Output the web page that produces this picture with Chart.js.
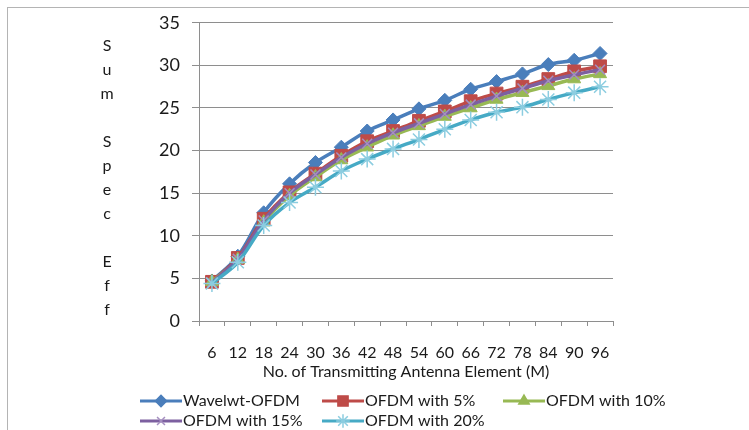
<!DOCTYPE html>
<html>
<head>
<meta charset="utf-8">
<script src="https://cdn.jsdelivr.net/npm/chart.js@4"></script>
<style>
  html,body{margin:0;padding:0;background:#fff;}
  #wrap{position:relative;width:749px;height:430px;overflow:hidden;}
  #frame{position:absolute;left:7px;top:7px;width:760px;height:440px;border-left:1px solid #b4b4b4;border-top:1px solid #b4b4b4;pointer-events:none;}
  #ytitle{position:absolute;left:97px;top:33px;width:20px;text-align:center;font-family:Lato,"Open Sans",sans-serif;font-size:16px;line-height:24px;color:#1a1a1a;}
  canvas{position:absolute;left:0;top:0;}
</style>
</head>
<body>
<div id="wrap">
  <canvas id="c" width="749" height="430"></canvas>
  <div id="frame"></div>
  <div id="ytitle">S<br>u<br>m<br>&nbsp;<br>S<br>p<br>e<br>c<br>&nbsp;<br>E<br>f<br>f</div>
</div>
<script>
const categories = ['6','12','18','24','30','36','42','48','54','60','66','72','78','84','90','96'];
const seriesNames = ['Wavelwt-OFDM','OFDM with 5%','OFDM with 10%','OFDM with 15%','OFDM with 20%'];
const waveletOFDM = [4.7, 7.6, 12.7, 16.1, 18.6, 20.4, 22.3, 23.6, 24.9, 25.9, 27.2, 28.1, 29.0, 30.1, 30.6, 31.4];
const ofdm5  = [4.6, 7.4, 12.0, 15.1, 17.3, 19.4, 21.1, 22.3, 23.5, 24.6, 25.8, 26.7, 27.5, 28.4, 29.3, 29.9];
const ofdm10 = [4.6, 7.2, 11.6, 14.7, 16.9, 18.9, 20.4, 21.8, 22.9, 24.0, 25.0, 26.0, 26.8, 27.6, 28.4, 29.0];
const ofdm15 = [4.5, 7.3, 11.8, 15.0, 17.2, 19.2, 20.8, 22.1, 23.2, 24.3, 25.4, 26.4, 27.3, 28.2, 28.9, 29.5];
const ofdm20 = [4.4, 6.9, 11.2, 13.9, 15.7, 17.6, 19.0, 20.2, 21.3, 22.5, 23.6, 24.5, 25.1, 26.0, 26.8, 27.5];
const yTicks = [0,5,10,15,20,25,30,35];
const xTitle = 'No. of Transmitting Antenna Element (M)';

const FONT = 'Lato, "Open Sans", sans-serif';
const TXT = '#1a1a1a';
const styles = [
  {color:'#4a7ebb', marker:'rectRot', r:7, mcolor:'#4a7ebb'},
  {color:'#be4b48', marker:'rect', r:9, mcolor:'#be4b48'},
  {color:'#98b954', marker:'triangle', r:7.5, mcolor:'#98b954'},
  {color:'#7d60a0', marker:'crossRot', r:7, mcolor:'#a58fc0'},
  {color:'#46aac5', marker:'star', r:8.5, mcolor:'#8ccde0'}
];
const allData = [waveletOFDM, ofdm5, ofdm10, ofdm15, ofdm20];

const datasets = allData.map((d,i)=>({
  label: seriesNames[i],
  data: d,
  borderColor: styles[i].color,
  backgroundColor: styles[i].mcolor,
  pointBorderColor: styles[i].mcolor,
  pointBackgroundColor: styles[i].mcolor,
  pointStyle: styles[i].marker,
  pointRadius: styles[i].r,
  pointBorderWidth: (styles[i].marker==='crossRot'||styles[i].marker==='star') ? 1.5 : 1,
  borderWidth: 3.5,
  tension: 0.35,
  order: 4 - i
}));

const legendPlugin = {
  id: 'customLegend',
  afterDraw(chart){
    const ctx = chart.ctx;
    const cols = [140, 322, 503];
    const rows = [401, 421];
    ctx.save();
    ctx.font = '16px ' + FONT;
    ctx.textBaseline = 'middle';
    seriesNames.forEach((name,i)=>{
      const x = cols[i%3], y = rows[Math.floor(i/3)];
      ctx.strokeStyle = styles[i].color;
      ctx.lineWidth = 3;
      ctx.beginPath(); ctx.moveTo(x, y); ctx.lineTo(x+42, y); ctx.stroke();
      ctx.fillStyle = styles[i].mcolor;
      ctx.strokeStyle = styles[i].mcolor;
      ctx.lineWidth = 1.5;
      Chart.helpers.drawPoint(ctx, {pointStyle: styles[i].marker, radius: styles[i].r*0.8, borderWidth:1.5, rotation:0}, x+21, y);
      ctx.fillStyle = TXT;
      ctx.fillText(name, x+43, y);
    });
    ctx.restore();
  }
};

new Chart(document.getElementById('c'), {
  type: 'line',
  data: { labels: categories, datasets },
  options: {
    responsive: false,
    animation: false,
    events: [],
    layout: { padding: { top: 21, right: 136, left: 0, bottom: 49 } },
    plugins: { legend: { display: false }, tooltip: { enabled: false } },
    scales: {
      x: {
        type: 'category',
        offset: true,
        grid: { drawOnChartArea: false, drawTicks: true, tickLength: 5, offset: true, color: '#8e8e8e' },
        border: { color: '#8e8e8e', width: 1 },
        ticks: { color: TXT, font: { family: FONT, size: 16 }, padding: 17, maxRotation: 0, autoSkip: false },
        title: { display: true, text: xTitle, color: TXT, font: { family: FONT, size: 16 }, padding: { top: 0, bottom: 0 } },
        afterFit(s){ s.height = 60; }
      },
      y: {
        min: 0, max: 35,
        afterBuildTicks(s){ s.ticks = yTicks.map(v=>({value:v})); },
        grid: { color: '#8e8e8e', tickLength: 7, drawTicks: true },
        border: { color: '#8e8e8e', width: 1 },
        ticks: { color: TXT, font: { family: FONT, size: 18 }, padding: 12 },
        afterFit(s){ s.width = 199; }
      }
    }
  },
  plugins: [legendPlugin]
});
</script>
</body>
</html>
